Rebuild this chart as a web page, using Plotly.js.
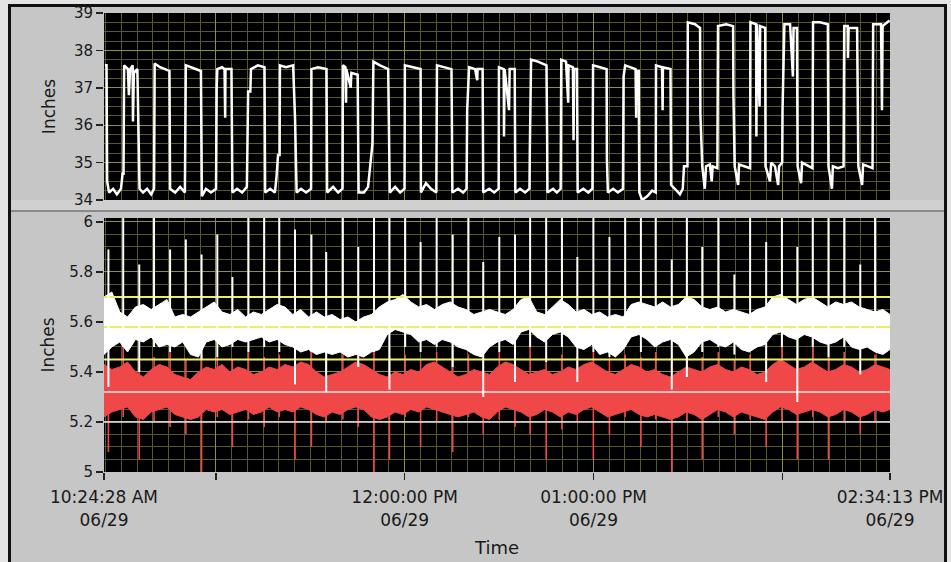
<!DOCTYPE html>
<html><head><meta charset="utf-8">
<script src="https://cdn.plot.ly/plotly-3.0.1.min.js"></script>
<style>
html,body{margin:0;padding:0;background:#e4e4e4;width:951px;height:562px;overflow:hidden;}
#panel{position:absolute;left:8px;top:4px;width:933px;height:600px;background:#c6c6c6;border:3px solid #111;}
#band{position:absolute;left:11px;top:200px;width:933px;height:10px;background:#d0d0d0;}
#sep{position:absolute;left:11px;top:210px;width:933px;height:2px;background:#8a8a8a;}
#chart{position:absolute;left:0;top:0;width:951px;height:562px;}
</style></head><body>
<div id="panel"></div><div id="band"></div><div id="sep"></div>
<div id="chart"></div>
<script>
// ---- time base: minutes after 10:24:28 AM, 06/29 ----
const startClock = '2011-06-29 10:24:28';
const endClock = '2011-06-29 14:34:13';
const xTickClocks = ['2011-06-29 10:24:28','2011-06-29 11:00:00','2011-06-29 12:00:00','2011-06-29 13:00:00','2011-06-29 14:00:00','2011-06-29 14:34:13'];
const xTickLabels = ['10:24:28 AM<br>06/29','','12:00:00 PM<br>06/29','01:00:00 PM<br>06/29','','02:34:13 PM<br>06/29'];

// ---- top chart (Inches, 34..39) ----
const topMinutes = [
 0.3,0.8,1.0,1.6,2.9,4.1,5.4,5.9,6.2,
 6.4,7.6,7.9,8.3,9.1,9.2,9.5,10.6,11.0,11.3,12.4,13.7,15.0,15.9,
 16.1,17.8,19.4,20.8,21.0,22.6,24.2,25.7,
 26.0,27.6,29.2,30.8,31.1,32.4,34.0,35.6,
 35.8,36.0,37.5,38.3,38.5,38.6,40.5,40.8,42.3,43.9,45.4,
 45.8,46.5,46.7,48.9,51.0,51.2,52.8,54.3,54.8,55.3,55.8,
 55.9,57.8,60.1,60.7,61.2,62.6,64.2,65.8,
 65.9,68.0,70.7,70.9,72.8,74.4,75.8,
 75.9,76.7,76.9,77.0,78.4,78.6,80.6,80.9,82.6,83.9,85.3,
 85.6,87.7,90.3,90.6,90.8,92.5,94.1,95.5,
 95.6,98.2,100.6,100.7,102.3,103.9,105.6,
 105.8,108.3,110.4,110.5,110.7,112.5,114.1,115.2,115.4,
 116.0,117.9,118.6,118.7,120.3,120.5,122.4,124.0,125.4,
 125.5,127.0,127.1,127.3,128.7,128.9,130.5,130.7,132.2,133.8,135.2,135.3,
 135.7,137.9,140.6,140.8,140.9,142.7,143.9,145.1,
 145.3,146.8,147.5,147.6,149.0,149.2,149.4,150.3,150.5,152.3,153.9,155.2,
 155.4,157.6,159.7,159.8,160.1,161.8,163.3,164.9,165.1,
 165.6,167.5,168.9,169.1,169.2,169.9,170.1,171.0,172.6,174.2,175.3,
 175.4,177.3,177.5,177.6,180.0,180.2,181.4,183.0,183.9,184.3,185.4,
 185.5,187.8,189.4,189.5,190.1,190.9,191.3,192.5,193.1,193.4,194.9,
 195.1,197.7,199.9,200.0,200.4,201.5,201.8,203.7,205.3,
 205.4,207.2,207.3,207.5,208.3,208.5,210.1,210.2,211.6,212.0,213.2,214.2,214.5,215.5,215.6,
 216.2,218.0,218.9,219.1,220.2,220.4,221.5,221.8,223.7,225.1,
 225.3,227.5,230.0,230.2,231.3,231.6,233.2,235.0,
 235.2,236.3,236.4,236.6,239.3,239.6,239.7,240.9,241.2,242.8,244.2,
 244.4,246.9,247.2,247.4,249.6
];
const topInches = [
 37.6,37.6,34.5,34.2,34.3,34.15,34.3,34.7,34.7,
 37.6,37.5,36.8,37.5,37.6,36.1,37.4,37.5,35.8,34.3,34.2,34.3,34.15,34.3,
 37.65,37.55,37.5,37.45,34.3,34.2,34.35,34.2,
 37.6,37.55,37.5,37.45,34.1,34.3,34.2,34.3,
 37.0,37.5,37.55,37.5,36.2,37.5,37.5,34.2,34.3,34.2,34.35,
 36.9,36.9,37.5,37.6,37.55,34.2,34.3,34.2,34.6,35.2,35.2,
 37.6,37.55,37.6,36.2,34.2,34.3,34.2,34.3,
 37.5,37.55,37.5,34.2,34.35,34.2,34.3,
 37.6,37.55,36.6,37.5,37.0,37.4,37.35,34.2,34.2,34.35,35.5,
 37.7,37.6,37.5,35.3,34.2,34.35,34.2,34.3,
 37.6,37.55,37.5,34.2,34.45,34.3,34.2,
 37.6,37.55,37.5,36.6,34.2,34.3,34.2,34.3,36.4,
 37.55,37.5,37.2,37.5,37.5,34.2,34.3,34.2,34.3,
 37.55,37.5,35.7,37.5,36.4,37.5,37.5,34.2,34.3,34.2,34.3,35.3,
 37.75,37.7,37.6,35.7,34.2,34.3,34.2,34.3,
 37.75,37.7,36.6,37.6,37.55,35.6,37.5,37.5,34.2,34.3,34.2,34.3,
 37.6,37.55,37.5,35.1,34.2,34.3,34.2,34.3,37.3,
 37.6,37.55,37.5,36.2,37.45,37.45,34.2,34.0,34.1,34.25,34.2,
 37.6,37.55,36.4,37.55,37.5,34.4,34.3,34.15,34.3,34.9,34.9,
 38.75,38.7,38.6,36.3,34.9,34.3,34.9,34.95,34.5,34.9,34.85,
 38.65,38.7,38.65,36.8,34.9,34.4,34.95,34.9,34.85,
 38.75,38.7,35.7,38.7,36.5,38.65,38.6,34.9,34.5,35.0,34.9,34.4,34.9,35.0,36.4,
 38.7,38.7,37.3,38.6,38.6,34.9,34.45,35.0,34.9,34.85,
 38.75,38.75,38.7,34.9,34.3,34.9,34.85,34.9,
 38.65,38.65,37.8,38.6,38.6,36.8,34.9,34.4,34.95,34.9,34.85,
 38.7,38.7,36.4,38.65,38.8
];

// ---- bottom chart (Inches, 5..6) : noise bands sampled every 2.5 min ----
const bandMinutes = [
 0,2.5,5,7.5,10,12.5,15,17.5,20,22.5,
 25,27.5,30,32.5,35,37.5,40,42.5,45,47.5,
 50,52.5,55,57.5,60,62.5,65,67.5,70,72.5,
 75,77.5,80,82.5,85,87.5,90,92.5,95,97.5,
 100,102.5,105,107.5,110,112.5,115,117.5,120,122.5,
 125,127.5,130,132.5,135,137.5,140,142.5,145,147.5,
 150,152.5,155,157.5,160,162.5,165,167.5,170,172.5,
 175,177.5,180,182.5,185,187.5,190,192.5,195,197.5,
 200,202.5,205,207.5,210,212.5,215,217.5,220,222.5,
 225,227.5,230,232.5,235,237.5,240,242.5,245,247.5,
 249.75
];
const whiteUpper = [
 5.70,5.72,5.64,5.62,5.66,5.67,5.65,5.67,5.69,5.62,
 5.63,5.62,5.64,5.66,5.68,5.64,5.63,5.65,5.62,5.64,
 5.63,5.65,5.67,5.66,5.63,5.65,5.62,5.64,5.62,5.63,
 5.61,5.62,5.60,5.62,5.63,5.66,5.68,5.69,5.71,5.68,
 5.66,5.67,5.65,5.67,5.68,5.66,5.65,5.63,5.64,5.65,
 5.64,5.63,5.65,5.69,5.70,5.64,5.63,5.66,5.69,5.67,
 5.64,5.65,5.63,5.64,5.62,5.63,5.62,5.67,5.68,5.67,
 5.66,5.68,5.66,5.67,5.70,5.69,5.66,5.65,5.66,5.64,
 5.65,5.64,5.63,5.65,5.66,5.70,5.71,5.69,5.67,5.69,
 5.70,5.68,5.66,5.68,5.67,5.68,5.66,5.65,5.64,5.65,
 5.63
];
const whiteLower = [
 5.47,5.50,5.52,5.48,5.53,5.52,5.54,5.50,5.51,5.50,
 5.52,5.47,5.46,5.52,5.53,5.50,5.51,5.53,5.52,5.53,
 5.54,5.52,5.53,5.51,5.50,5.48,5.49,5.47,5.48,5.47,
 5.48,5.46,5.47,5.46,5.48,5.49,5.55,5.57,5.56,5.55,
 5.52,5.53,5.51,5.53,5.52,5.50,5.49,5.47,5.46,5.50,
 5.52,5.53,5.51,5.56,5.57,5.54,5.52,5.55,5.56,5.54,
 5.50,5.49,5.51,5.47,5.48,5.46,5.49,5.54,5.55,5.53,
 5.50,5.52,5.53,5.51,5.46,5.48,5.52,5.53,5.51,5.50,
 5.52,5.49,5.48,5.50,5.51,5.55,5.56,5.54,5.53,5.55,
 5.54,5.52,5.51,5.52,5.54,5.50,5.49,5.50,5.48,5.47,
 5.49
];
const redUpper = [
 5.43,5.41,5.42,5.44,5.40,5.38,5.41,5.43,5.42,5.39,
 5.38,5.37,5.40,5.42,5.41,5.43,5.40,5.42,5.41,5.39,
 5.40,5.42,5.41,5.43,5.42,5.44,5.43,5.40,5.38,5.39,
 5.40,5.42,5.44,5.43,5.41,5.39,5.38,5.40,5.39,5.41,
 5.40,5.43,5.44,5.42,5.40,5.38,5.39,5.41,5.40,5.39,
 5.42,5.44,5.43,5.41,5.39,5.40,5.41,5.39,5.40,5.42,
 5.41,5.43,5.44,5.42,5.40,5.39,5.41,5.43,5.42,5.40,
 5.41,5.39,5.38,5.40,5.42,5.41,5.40,5.42,5.43,5.41,
 5.40,5.42,5.41,5.39,5.40,5.43,5.45,5.43,5.41,5.42,
 5.44,5.42,5.40,5.41,5.43,5.42,5.40,5.41,5.43,5.42,
 5.41
];
const redLower = [
 5.22,5.24,5.25,5.26,5.22,5.21,5.24,5.25,5.26,5.23,
 5.22,5.21,5.22,5.25,5.24,5.25,5.23,5.24,5.25,5.23,
 5.24,5.26,5.24,5.25,5.24,5.26,5.25,5.23,5.22,5.24,
 5.23,5.25,5.26,5.25,5.22,5.21,5.22,5.24,5.23,5.25,
 5.24,5.26,5.25,5.24,5.23,5.22,5.23,5.24,5.22,5.21,
 5.24,5.26,5.25,5.24,5.22,5.23,5.25,5.24,5.22,5.24,
 5.23,5.25,5.26,5.24,5.22,5.23,5.24,5.25,5.23,5.22,
 5.23,5.22,5.21,5.22,5.24,5.23,5.21,5.23,5.25,5.24,
 5.22,5.24,5.23,5.22,5.21,5.24,5.26,5.25,5.23,5.24,
 5.25,5.24,5.22,5.23,5.25,5.24,5.22,5.23,5.25,5.24,
 5.25
];

// ---- spikes at each level change of the top signal ----
const spikeMinutes = [1.4,6.1,11.2,15.9,21.0,26.0,31.0,36.0,40.8,45.9,50.9,55.7,60.7,65.9,
 70.6,75.9,80.8,85.8,90.7,95.7,100.6,105.7,110.8,115.8,120.5,125.6,130.6,135.4,140.5,145.5,150.4,155.5,160.6,
 165.6,170.6,175.3,180.4,185.2,190.1,195.2,200.3,205.3,210.4,215.4,220.3,225.2,230.2,235.2,240.3,245.0];
const whiteSpikeTop = [5.89,6.02,5.83,6.02,5.89,5.93,5.87,5.95,5.78,6.02,6.02,6.02,5.97,5.95,
 5.88,6.02,5.9,6.02,6.02,6.02,5.92,6.02,5.95,6.02,5.84,5.94,5.95,6.02,6.02,6.02,5.86,6.02,5.94,
 6.02,6.02,6.02,5.85,6.02,5.9,6.02,5.79,6.02,5.92,6.02,5.9,6.02,6.02,6.02,5.83,6.02];
const whiteSpikeLow = [5.34,5.50,5.40,5.50,5.48,5.50,5.45,5.46,5.50,5.48,5.50,5.48,5.35,5.48,
 5.32,5.50,5.42,5.48,5.33,5.50,5.48,5.50,5.42,5.50,5.30,5.48,5.36,5.50,5.44,5.50,5.36,5.48,5.46,
 5.50,5.48,5.50,5.33,5.38,5.48,5.50,5.47,5.50,5.36,5.50,5.28,5.50,5.46,5.50,5.39,5.50];
const redDipLow = [5.08,5.22,5.05,5.20,5.18,5.15,5.00,5.22,5.10,5.21,5.18,5.22,5.05,5.10,
 5.20,5.21,5.18,5.00,5.05,5.22,5.10,5.20,5.08,5.22,5.15,5.21,5.18,5.15,5.05,5.17,5.20,5.05,5.15,
 5.22,5.10,5.21,5.00,5.20,5.05,5.22,5.15,5.21,5.10,5.20,5.05,5.22,5.05,5.20,5.15,5.20];
const redPeak = [5.47,5.50,5.45,5.46,5.48,5.45,5.47,5.46,5.45,5.48,5.46,5.47,5.45,5.48,
 5.46,5.47,5.45,5.49,5.46,5.47,5.45,5.48,5.46,5.47,5.45,5.48,5.46,5.56,5.45,5.47,5.46,5.48,5.45,
 5.47,5.46,5.48,5.45,5.47,5.46,5.48,5.45,5.47,5.46,5.62,5.45,5.61,5.46,5.48,5.45,5.47];

// ---- limit lines ----
const yellowLimits = [5.70, 5.58, 5.45];
const whiteLimits = [5.32, 5.20];

// ---- axis ticks ----
const topTicks = [34,35,36,37,38,39];
const bottomTicks = [5,5.2,5.4,5.6,5.8,6];
const bottomTickText = ['5','5.2','5.4','5.6','5.8','6'];

// =====================================================
function ms(clock){ const p = clock.split(/[- :]/).map(Number); return Date.UTC(p[0],p[1]-1,p[2],p[3],p[4],p[5]); }
const T0 = ms(startClock), T1 = ms(endClock);
const tx = m => T0 + m*60000;

const MAJ = '#8e8e48', MIN = '#58582c';

function spikeSeg(lo, hi){
  const x=[], y=[];
  spikeMinutes.forEach((m,i)=>{ x.push(tx(m),tx(m),null); y.push(lo[i],hi[i],null); });
  return {x,y};
}
const bx = bandMinutes.map(tx);
const traces = [];
traces.push({x: topMinutes.map(tx), y: topInches, xaxis:'x2', yaxis:'y2', mode:'lines', line:{color:'#ffffff', width:2.5}, hoverinfo:'skip'});
traces.push({x: bx, y: redLower, mode:'lines', line:{color:'#f04848', width:1}, hoverinfo:'skip'});
traces.push({x: bx, y: redUpper, mode:'lines', fill:'tonexty', fillcolor:'#f04848', line:{color:'#f04848', width:1}, hoverinfo:'skip'});
const rs = spikeSeg(redDipLow, redPeak);
traces.push({x: rs.x, y: rs.y, mode:'lines', line:{color:'#f04848', width:1.6}, hoverinfo:'skip'});
traces.push({x: bx, y: whiteLower, mode:'lines', line:{color:'#ffffff', width:1}, hoverinfo:'skip'});
traces.push({x: bx, y: whiteUpper, mode:'lines', fill:'tonexty', fillcolor:'#ffffff', line:{color:'#ffffff', width:1}, hoverinfo:'skip'});
yellowLimits.forEach(v => traces.push({x:[T0,T1], y:[v,v], mode:'lines', line:{color:'#eeee66', width:1.8}, hoverinfo:'skip'}));
whiteLimits.forEach(v => traces.push({x:[T0,T1], y:[v,v], mode:'lines', line:{color:'#e6e6e6', width:1.5}, hoverinfo:'skip'}));
const ws = spikeSeg(whiteSpikeLow, whiteSpikeTop);
traces.push({x: ws.x, y: ws.y, mode:'lines', line:{color:'#ffffff', width:2}, hoverinfo:'skip'});

const xTickVals = xTickClocks.map(ms);
const minorX = {dtick:300000, tick0:'2011-06-29 10:00:00', showgrid:true, gridcolor:MIN, gridwidth:1, ticks:''};
const layout = {
  width:951, height:562,
  margin:{l:104, r:61, t:13, b:90},
  paper_bgcolor:'rgba(0,0,0,0)', plot_bgcolor:'#000000',
  showlegend:false,
  font:{family:'DejaVu Sans, Liberation Sans, sans-serif', size:15, color:'#1a1a1a'},
  xaxis:{type:'date', range:[T0,T1], anchor:'y', tickmode:'array', tickvals:xTickVals, ticktext:xTickLabels,
    ticks:'outside', ticklen:7, tickwidth:1.5, tickcolor:'#222', tickfont:{size:17}, ticklabelstandoff:3,
    showgrid:true, gridcolor:MAJ, gridwidth:1, minor:minorX, zeroline:false, showline:false,
    title:{text:'Time', font:{size:18}, standoff:12}},
  xaxis2:{type:'date', matches:'x', anchor:'y2', tickmode:'array', tickvals:xTickVals, showticklabels:false, ticks:'',
    showgrid:true, gridcolor:MAJ, gridwidth:1, minor:minorX, zeroline:false, showline:false},
  yaxis:{domain:[0,0.5534], range:[5,6.016], tickmode:'array', tickvals:bottomTicks, ticktext:bottomTickText,
    ticks:'outside', ticklen:7, tickwidth:1.5, tickcolor:'#222', tickfont:{size:15},
    showgrid:true, gridcolor:MAJ, gridwidth:1, minor:{dtick:0.05, tick0:5, showgrid:true, gridcolor:MIN, gridwidth:1, ticks:''},
    zeroline:false, showline:false, title:{text:'Inches', font:{size:17}, standoff:10}},
  yaxis2:{domain:[0.5926,1], range:[34,39], tickmode:'array', tickvals:topTicks,
    ticks:'outside', ticklen:7, tickwidth:1.5, tickcolor:'#222', tickfont:{size:15},
    showgrid:true, gridcolor:MAJ, gridwidth:1, minor:{dtick:0.25, tick0:34, showgrid:true, gridcolor:MIN, gridwidth:1, ticks:''},
    zeroline:false, showline:false, title:{text:'Inches', font:{size:17}, standoff:13}}
};
Plotly.newPlot('chart', traces, layout, {staticPlot:true, displayModeBar:false});
</script>
</body></html>
